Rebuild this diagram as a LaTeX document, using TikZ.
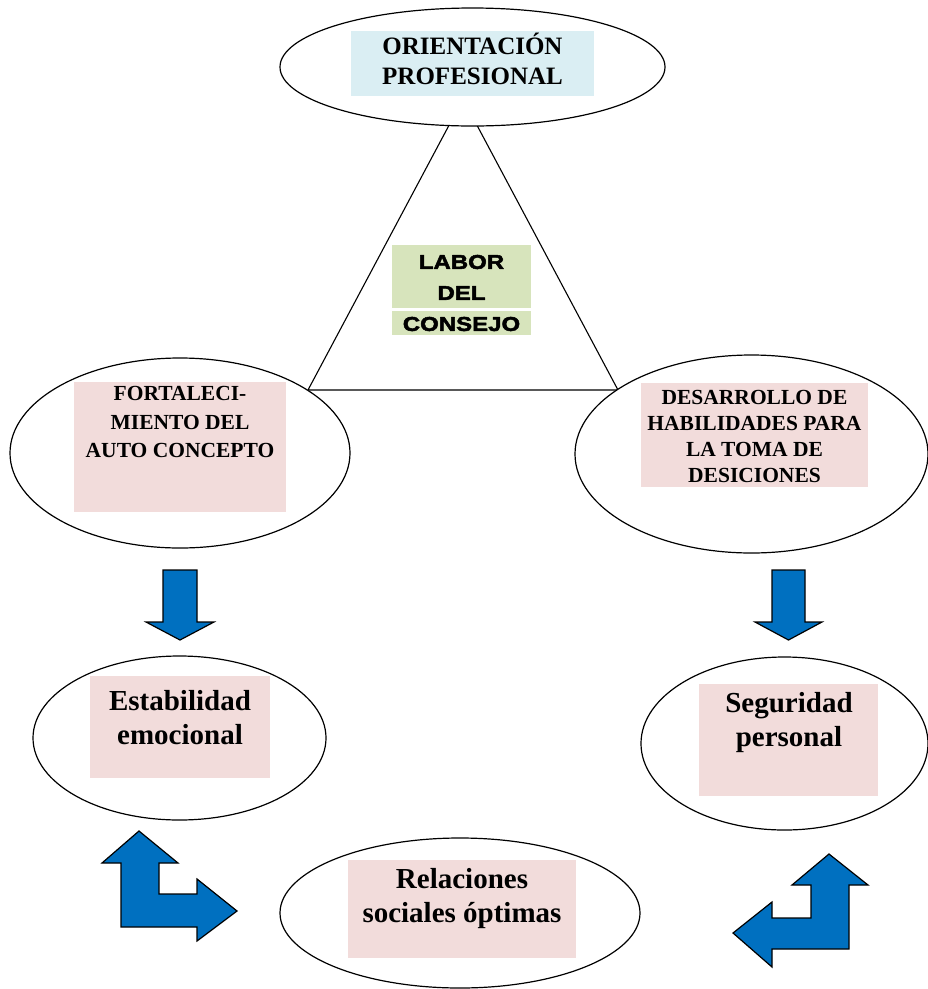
\documentclass[tikz,border=0pt]{standalone}
\usepackage{fontspec}
\setmainfont{Liberation Serif}
\newfontfamily\heavyfont[FakeStretch=1.2,FakeBold=2.5]{Liberation Sans}
\usepackage{tikz}
\usetikzlibrary{calc}
\usetikzlibrary{shapes.geometric}
\definecolor{daeef3}{rgb}{0.855,0.933,0.953}
\definecolor{d7e4bc}{rgb}{0.843,0.894,0.737}
\definecolor{f2dcdb}{rgb}{0.949,0.863,0.859}
\definecolor{qqmmcc}{rgb}{0.,0.439,0.753}
\tikzstyle{every node}=[font=\bfseries]
\tikzstyle{oval}=[ellipse,draw,line width=1.2pt,fill=white,inner sep=0pt]
\tikzstyle{pinkbox}=[rectangle,fill=f2dcdb,inner sep=0pt]
\tikzstyle{bluearrow}=[line width=1.2pt,draw=black,fill=qqmmcc,line join=miter]

\begin{document}
\begin{tikzpicture}[line cap=round,line join=round,x=1pt,y=-1pt]
            \useasboundingbox (0,0) rectangle (928,989);
            % triangle behind the ovals
            \coordinate (apex) at (463,99);
            \coordinate (lcorner) at (308,390);
            \coordinate (rcorner) at (618,390);
            \draw [line width=1.1pt] (apex) -- (lcorner) -- (rcorner) -- cycle;
            \node [oval,minimum width=385pt,minimum height=118pt] (orient) at (472.5,67) {};
            \node [rectangle,fill=daeef3,inner sep=0pt,minimum width=243pt,minimum height=65pt] (orientbox) at (472.5,63.5) {};
            \node [align=center,font=\fontsize{25}{30}\selectfont\bfseries] (orienttext) at (472.5,59) {ORIENTACIÓN\\PROFESIONAL};
            \node [rectangle,fill=d7e4bc,inner sep=0pt,minimum width=139pt,minimum height=63pt] (laborbox) at (461.5,276.5) {};
            \node [rectangle,fill=d7e4bc,inner sep=0pt,minimum width=139pt,minimum height=24pt] (consejobox) at (461.5,323) {};
            \node [align=center,font=\fontsize{20}{31}\selectfont\heavyfont\bfseries] (labortext) at (461.5,293) {LABOR\\DEL\\CONSEJO};
            \node [oval,minimum width=340pt,minimum height=190pt] (fort) at (180,453) {};
            \node [pinkbox,minimum width=212pt,minimum height=130pt] (fortbox) at (180,447) {};
            \node [align=center,font=\fontsize{21.5}{28.5}\selectfont\bfseries] (forttext) at (180,422) {FORTALECI-\\MIENTO DEL\\AUTO CONCEPTO};
            \node [oval,minimum width=353pt,minimum height=198pt] (desa) at (751.5,454) {};
            \node [pinkbox,minimum width=227pt,minimum height=104pt] (desabox) at (754.5,435) {};
            \node [align=center,font=\fontsize{21.5}{26}\selectfont\bfseries] (desatext) at (754.5,436) {DESARROLLO DE\\HABILIDADES PARA\\LA TOMA DE\\DESICIONES};
            \node [oval,minimum width=293pt,minimum height=164pt] (estab) at (179.5,738) {};
            \node [pinkbox,minimum width=180pt,minimum height=102pt] (estabbox) at (180,727) {};
            \node [align=center,font=\fontsize{29}{34}\selectfont\bfseries] (estabtext) at (180,718) {Estabilidad\\emocional};
            \node [oval,minimum width=287pt,minimum height=173pt] (segur) at (784.5,743.5) {};
            \node [pinkbox,minimum width=179pt,minimum height=112pt] (segurbox) at (788.5,740) {};
            \node [align=center,font=\fontsize{29}{34}\selectfont\bfseries] (segurtext) at (789,723) {Seguridad\\personal};
            \node [oval,minimum width=360pt,minimum height=150pt] (relac) at (460,913) {};
            \node [pinkbox,minimum width=228pt,minimum height=98pt] (relacbox) at (462,909) {};
            \node [align=center,font=\fontsize{29}{34}\selectfont\bfseries] (relactext) at (462,899) {Relaciones\\sociales óptimas};
            % block arrows
            \draw [bluearrow] (163,570) -- (197,570) -- (197,622) -- (214,622) -- (180,640) -- (146,622) -- (163,622) -- cycle;
            \draw [bluearrow] (772,570) -- (805,570) -- (805,622) -- (822,622) -- (788.5,640) -- (755,622) -- (772,622) -- cycle;
            \draw [bluearrow] (121,927) -- (121,863) -- (102,863) -- (139,831) -- (178,863) -- (159,863) -- (159,894) -- (197,894) -- (197,879) -- (237,911) -- (197,941) -- (197,927) -- cycle;
            \draw [bluearrow] (849,949) -- (849,885) -- (868,885) -- (829,854) -- (792,885) -- (811,885) -- (811,918) -- (772,918) -- (772,902) -- (733,933) -- (772,967) -- (772,949) -- cycle;
\end{tikzpicture}
\end{document}
